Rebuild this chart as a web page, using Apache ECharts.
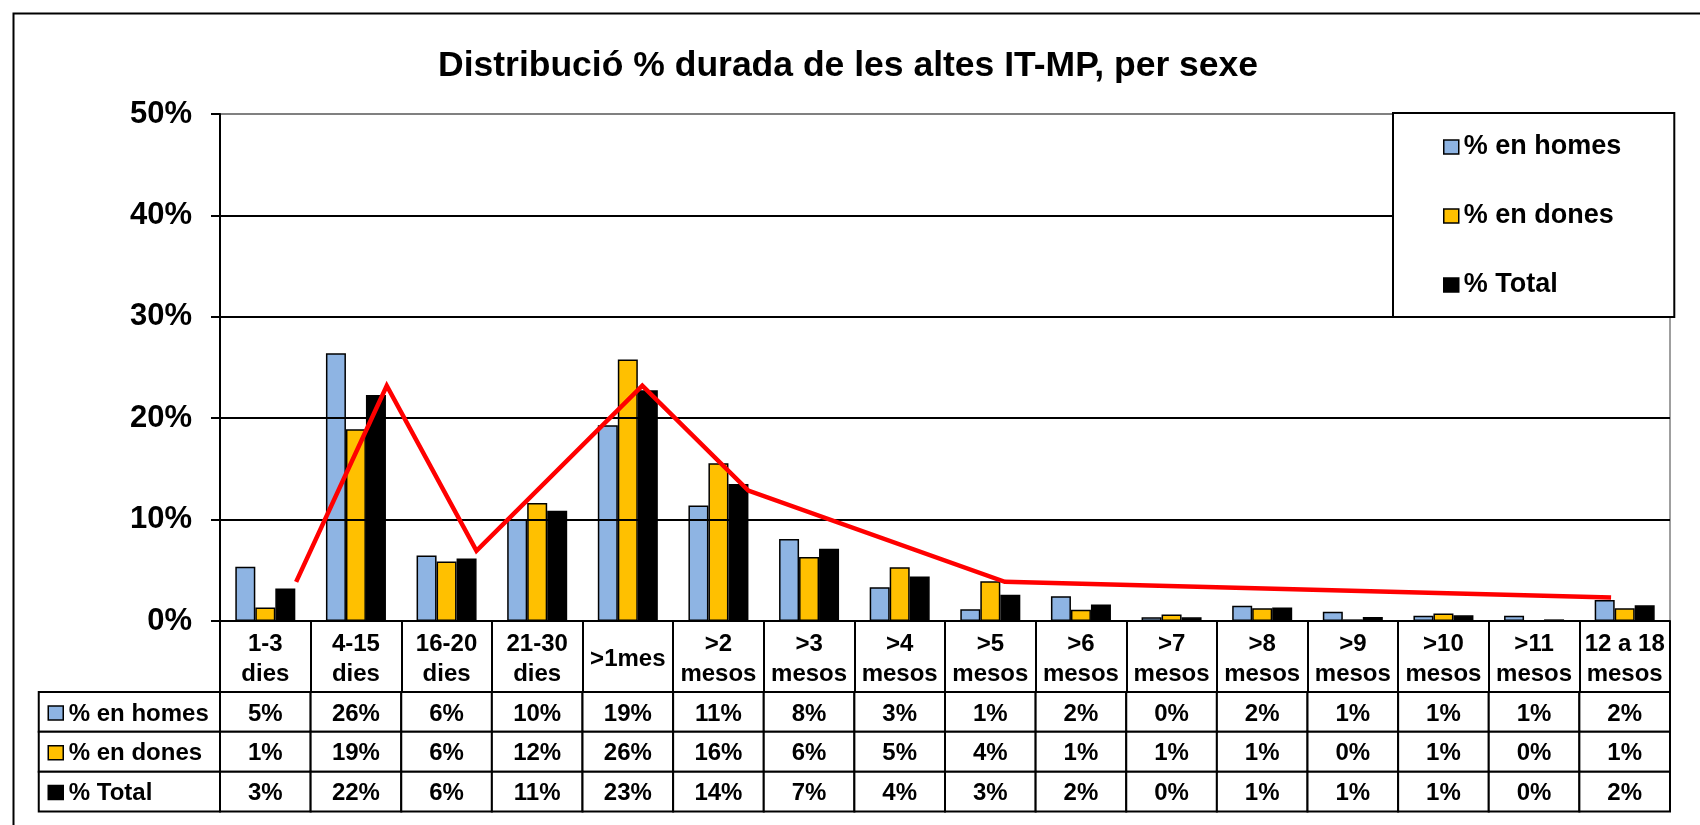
<!DOCTYPE html>
<html>
<head>
<meta charset="utf-8">
<script src="https://cdn.jsdelivr.net/npm/echarts@6/dist/echarts.min.js"></script>
<style>
html,body{margin:0;padding:0;background:#fff;}
#chart{width:1700px;height:825px;}
</style>
</head>
<body>
<div id="chart"></div>
<script>
// ---- data ----
const categories = ['1-3\ndies','4-15\ndies','16-20\ndies','21-30\ndies','>1mes','>2\nmesos','>3\nmesos','>4\nmesos','>5\nmesos','>6\nmesos','>7\nmesos','>8\nmesos','>9\nmesos','>10\nmesos','>11\nmesos','12 a 18\nmesos'];
const seriesNames = ['% en homes','% en dones','% Total'];
const homes = [5.34, 26.4, 6.45, 10.06, 19.3, 11.4, 8.08, 3.33, 1.15, 2.45, 0.36, 1.5, 0.92, 0.52, 0.52, 2.08];
const dones = [1.32, 18.9, 5.87, 11.64, 25.8, 15.56, 6.3, 5.31, 3.92, 1.12, 0.63, 1.25, 0.16, 0.73, 0.02, 1.25];
const total = [3.2, 22.3, 6.17, 10.88, 22.75, 13.5, 7.12, 4.39, 2.6, 1.62, 0.36, 1.32, 0.4, 0.56, 0.16, 1.55];
const homesLabels = ['5%','26%','6%','10%','19%','11%','8%','3%','1%','2%','0%','2%','1%','1%','1%','2%'];
const donesLabels = ['1%','19%','6%','12%','26%','16%','6%','5%','4%','1%','1%','1%','0%','1%','0%','1%'];
const totalLabels = ['3%','22%','6%','11%','23%','14%','7%','4%','3%','2%','0%','1%','1%','1%','0%','2%'];
// red trend line (x in category units from the left of the axis, y in %)
const trendX = [0.84, 1.84, 2.83, 4.66, 5.83, 8.66, 15.35];
const trendY = [3.86, 23.2, 6.92, 23.2, 12.86, 3.86, 2.31];
const yTicks = [0, 10, 20, 30, 40, 50];

// ---- styling ----
const FONT = '"Liberation Sans", Arial, Helvetica, sans-serif';
const colors = ['#8EB4E3', '#FFC000', '#000000'];

const rowLabels = [homesLabels, donesLabels, totalLabels];
const tableCells = [];
const tableText = [];
for (let r = 0; r < 3; r++) {
  tableCells.push([-2, r]);
  tableText.push(seriesNames[r]);
  for (let c = 0; c < categories.length; c++) {
    tableCells.push([c, r]);
    tableText.push(rowLabels[r][c]);
  }
}

const chart = echarts.init(document.getElementById('chart'), null, {renderer: 'canvas'});

function barSeries(i, data) {
  return {
    name: seriesNames[i], type: 'bar', data: data,
    xAxisIndex: 0, yAxisIndex: 0,
    barWidth: 20, barGap: '0%',
    itemStyle: {color: colors[i], borderColor: '#000', borderWidth: 1.5},
    emphasis: {disabled: true}, z: 3
  };
}

const option = {
  backgroundColor: '#fff',
  animation: false,
  textStyle: {fontFamily: FONT},
  title: {
    text: 'Distribució % durada de les altes IT-MP, per sexe',
    left: 433, top: 43,
    textStyle: {fontFamily: FONT, fontSize: 35.5, fontWeight: 'bold', color: '#000'}
  },
  legend: {
    data: seriesNames.map(n => ({name: n, icon: 'rect'})),
    orient: 'vertical',
    left: 1393, top: 113,
    itemWidth: 15, itemHeight: 14, itemGap: 41,
    padding: [20, 53, 18, 50],
    backgroundColor: '#fff',
    borderColor: '#000', borderWidth: 2,
    textStyle: {fontFamily: FONT, fontSize: 27, fontWeight: 'bold', color: '#000', lineHeight: 28},
    itemStyle: {borderColor: '#000', borderWidth: 1.5},
    selectedMode: false, z: 10
  },
  graphic: [{
    type: 'rect', left: 11, top: 11, z: 100, silent: true,
    shape: {x: 0, y: 0, width: 1720, height: 840},
    style: {fill: 'none', stroke: '#000', lineWidth: 2}
  }],
  grid: [
    {left: 220, right: 30, top: 114, height: 507, show: true, borderColor: '#808080', borderWidth: 1.5, backgroundColor: 'transparent'},
    {left: 38.75, right: 30, top: 692, height: 119.5}
  ],
  xAxis: [
    {
      type: 'category', gridIndex: 0, data: categories, boundaryGap: true,
      axisLine: {show: true, lineStyle: {color: '#000', width: 2}},
      axisTick: {show: true, length: 71, alignWithLabel: false, lineStyle: {color: '#000', width: 2}},
      axisLabel: {
        interval: 0, margin: 38, verticalAlign: 'middle', color: '#000',
        fontFamily: FONT, fontSize: 24, fontWeight: 'bold', lineHeight: 30
      },
      splitLine: {show: false}, z: 5
    },
    {type: 'value', gridIndex: 0, min: 0, max: 16, show: false},
    {type: 'value', gridIndex: 1, min: -2, max: 16, show: false}
  ],
  yAxis: [
    {
      type: 'value', gridIndex: 0, min: yTicks[0], max: yTicks[yTicks.length - 1], interval: 10,
      axisLine: {show: true, lineStyle: {color: '#000', width: 2}},
      axisTick: {show: true, length: 9, lineStyle: {color: '#000', width: 2}},
      axisLabel: {
        formatter: v => v + '%', margin: 28, color: '#000',
        fontFamily: FONT, fontSize: 31, fontWeight: 'bold'
      },
      splitLine: {show: true, lineStyle: {color: ['#000','#000','#000','#000','#000','#808080'], width: 2}},
      z: 5
    },
    {type: 'value', gridIndex: 1, min: 0, max: 3, inverse: true, show: false}
  ],
  series: [
    barSeries(0, homes),
    barSeries(1, dones),
    barSeries(2, total),
    {
      name: 'trend', type: 'line', xAxisIndex: 1, yAxisIndex: 0,
      data: trendX.map((x, i) => [x, trendY[i]]),
      showSymbol: false, symbol: 'none',
      lineStyle: {color: '#FF0000', width: 4.5, join: 'miter'},
      emphasis: {disabled: true}, z: 6, silent: true
    },
    {
      name: 'table', type: 'custom', xAxisIndex: 2, yAxisIndex: 1,
      data: tableCells, clip: false, silent: true, z: 4,
      renderItem: function (params, api) {
        const c = api.value(0), r = api.value(1);
        const w = c < 0 ? 2 : 1;
        const p0 = api.coord([c, r]);
        const p1 = api.coord([c + w, r + 1]);
        const txt = tableText[params.dataIndex];
        const children = [{
          type: 'rect',
          shape: {x: p0[0], y: p0[1], width: p1[0] - p0[0], height: p1[1] - p0[1]},
          style: {fill: '#fff', stroke: '#000', lineWidth: 2}
        }];
        const cy = (p0[1] + p1[1]) / 2;
        if (c < 0) {
          children.push({
            type: 'rect',
            shape: {x: p0[0] + 9.5, y: cy - 6, width: 15, height: 14},
            style: {fill: colors[r], stroke: '#000', lineWidth: 1.5}
          });
          children.push({
            type: 'text',
            style: {text: txt, x: p0[0] + 30, y: cy + 2, align: 'left', verticalAlign: 'middle',
              fontSize: 24, fontWeight: 'bold', fontFamily: FONT, fill: '#000'}
          });
        } else {
          children.push({
            type: 'text',
            style: {text: txt, x: (p0[0] + p1[0]) / 2, y: cy + 2, align: 'center', verticalAlign: 'middle',
              fontSize: 24, fontWeight: 'bold', fontFamily: FONT, fill: '#000'}
          });
        }
        return {type: 'group', children: children};
      }
    }
  ]
};
chart.setOption(option);
</script>
</body>
</html>
